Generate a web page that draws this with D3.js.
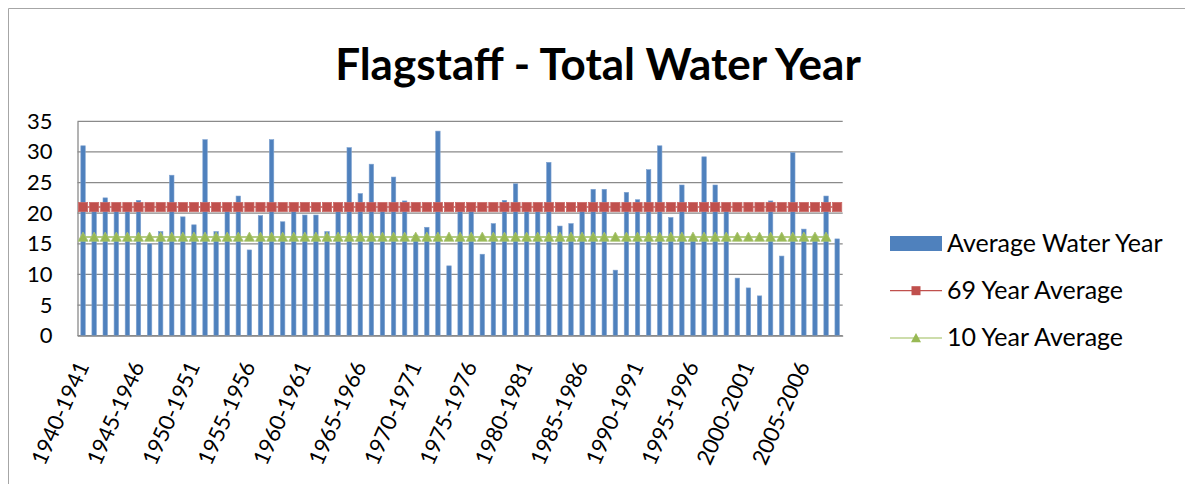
<!DOCTYPE html>
<html>
<head>
<meta charset="utf-8">
<script src="https://cdn.jsdelivr.net/npm/d3@7"></script>
<style>
  body { margin: 0; background: #fff; }
  svg { display: block; }
</style>
</head>
<body>
<svg id="chart" width="1185" height="484"></svg>
<script>
// water years on the category axis
var years = ["1940-1941","1941-1942","1942-1943","1943-1944","1944-1945","1945-1946","1946-1947","1947-1948","1948-1949","1949-1950",
  "1950-1951","1951-1952","1952-1953","1953-1954","1954-1955","1955-1956","1956-1957","1957-1958","1958-1959","1959-1960",
  "1960-1961","1961-1962","1962-1963","1963-1964","1964-1965","1965-1966","1966-1967","1967-1968","1968-1969","1969-1970",
  "1970-1971","1971-1972","1972-1973","1973-1974","1974-1975","1975-1976","1976-1977","1977-1978","1978-1979","1979-1980",
  "1980-1981","1981-1982","1982-1983","1983-1984","1984-1985","1985-1986","1986-1987","1987-1988","1988-1989","1989-1990",
  "1990-1991","1991-1992","1992-1993","1993-1994","1994-1995","1995-1996","1996-1997","1997-1998","1998-1999","1999-2000",
  "2000-2001","2001-2002","2002-2003","2003-2004","2004-2005","2005-2006","2006-2007","2007-2008","2008-2009"];

// only every 5th year gets a label
var tickLabels = ["1940-1941","1945-1946","1950-1951","1955-1956","1960-1961","1965-1966","1970-1971",
  "1975-1976","1980-1981","1985-1986","1990-1991","1995-1996","2000-2001","2005-2006"];

var waterYear = [31.0,20.8,22.5,20.7,20.9,22.1,15.0,17.0,26.2,19.4,
  18.1,32.0,17.0,20.6,22.8,14.0,19.6,32.0,18.6,20.4,
  19.7,19.7,17.0,20.5,30.7,23.2,28.0,20.7,25.9,22.0,
  16.4,17.7,33.4,11.4,20.5,20.6,13.3,18.3,22.1,24.8,
  20.8,20.6,28.3,17.9,18.3,20.5,23.9,23.9,10.7,23.4,
  22.2,27.1,31.0,19.3,24.6,16.2,29.2,24.6,20.5,9.4,
  7.8,6.5,22.0,13.0,29.9,17.4,16.3,22.8,15.8];

var avg69 = [21.0,21.0,21.0,21.0,21.0,21.0,21.0,21.0,21.0,21.0,
  21.0,21.0,21.0,21.0,21.0,21.0,21.0,21.0,21.0,21.0,
  21.0,21.0,21.0,21.0,21.0,21.0,21.0,21.0,21.0,21.0,
  21.0,21.0,21.0,21.0,21.0,21.0,21.0,21.0,21.0,21.0,
  21.0,21.0,21.0,21.0,21.0,21.0,21.0,21.0,21.0,21.0,
  21.0,21.0,21.0,21.0,21.0,21.0,21.0,21.0,21.0,21.0,
  21.0,21.0,21.0,21.0,21.0,21.0,21.0,21.0,21.0];

// the 10 year average stops one year short
var avg10 = [16.1,16.1,16.1,16.1,16.1,16.1,16.1,16.1,16.1,16.1,
  16.1,16.1,16.1,16.1,16.1,16.1,16.1,16.1,16.1,16.1,
  16.1,16.1,16.1,16.1,16.1,16.1,16.1,16.1,16.1,16.1,
  16.1,16.1,16.1,16.1,16.1,16.1,16.1,16.1,16.1,16.1,
  16.1,16.1,16.1,16.1,16.1,16.1,16.1,16.1,16.1,16.1,
  16.1,16.1,16.1,16.1,16.1,16.1,16.1,16.1,16.1,16.1,
  16.1,16.1,16.1,16.1,16.1,16.1,16.1,16.1];

var yTicks = [0, 5, 10, 15, 20, 25, 30, 35];

var svg = d3.select("#chart");
var plotLeft = 77.5, plotRight = 842.7, plotTop = 121.3, plotBottom = 335.7;
var font = "Lato, 'Open Sans', sans-serif";

// chart frame (left and top edges; the rest is cropped off)
svg.append("path")
	.attr("d", "M8.5,484V8.5H1185")
	.attr("fill", "none")
	.attr("stroke", "#a6a6a6");

svg.append("text")
	.attr("x", 598).attr("y", 80)
	.attr("text-anchor", "middle")
	.style("font-family", font)
	.style("font-weight", "bold")
	.style("font-size", "44px")
	.text("Flagstaff - Total Water Year");

var x = d3.scaleBand().domain(years).range([plotLeft, plotRight]).paddingInner(0.6).paddingOuter(0.3);
var xc = d3.scalePoint().domain(years).range([plotLeft, plotRight]).padding(0.5);
var y = d3.scaleLinear().domain([0, 35]).range([plotBottom, plotTop]);

// gridlines
svg.append("g").selectAll("line")
	.data(yTicks)
	.enter().append("line")
	.attr("x1", plotLeft).attr("x2", plotRight)
	.attr("y1", function(d) { return y(d); })
	.attr("y2", function(d) { return y(d); })
	.attr("stroke", "#8a8a8a")
	.attr("stroke-width", 1.3);

// y axis
var yAxis = svg.append("g")
	.attr("transform", "translate(" + plotLeft + ",0)")
	.call(d3.axisLeft(y).tickValues(yTicks).tickSize(0).tickPadding(25));
yAxis.select(".domain").attr("stroke", "#8a8a8a").attr("stroke-width", 1.3);
yAxis.selectAll("text")
	.style("font-family", font)
	.style("font-size", "22px")
	.attr("fill", "#000");

// bars
svg.append("g").selectAll("rect")
	.data(waterYear)
	.enter().append("rect")
	.attr("x", function(d, i) { return x(years[i]); })
	.attr("width", x.bandwidth())
	.attr("y", function(d) { return y(d); })
	.attr("height", function(d) { return plotBottom - y(d); })
	.attr("fill", "#4f81bd")
	.attr("stroke", "#7da1d0")
	.attr("stroke-width", 0.6);

// x axis, labels every 5 years
var xAxis = svg.append("g")
	.attr("transform", "translate(0," + plotBottom + ")")
	.call(d3.axisBottom(xc).tickValues(tickLabels).tickSize(0).tickPadding(0));
xAxis.select(".domain").attr("stroke", "#8a8a8a").attr("stroke-width", 1.3);
xAxis.selectAll("text")
	.style("font-family", font)
	.style("font-size", "22px")
	.attr("fill", "#000")
	.attr("text-anchor", "end")
	.attr("dy", "0.35em")
	.attr("transform", "translate(-1,27) rotate(-66)");

// 69 year average
var line = d3.line()
	.x(function(d, i) { return xc(years[i]); })
	.y(function(d) { return y(d); });

svg.append("path")
	.datum(avg69)
	.attr("d", line)
	.attr("fill", "none")
	.attr("stroke", "#c0504d")
	.attr("stroke-width", 1.5);

svg.append("g").selectAll("rect")
	.data(avg69)
	.enter().append("rect")
	.attr("x", function(d, i) { return xc(years[i]) - 4.6; })
	.attr("y", function(d) { return y(d) - 4.6; })
	.attr("width", 9.2).attr("height", 9.2)
	.attr("fill", "#c0504d")
	.attr("stroke", "#cb6966")
	.attr("stroke-width", 0.8);

// 10 year average
svg.append("path")
	.datum(avg10)
	.attr("d", line)
	.attr("fill", "none")
	.attr("stroke", "#9bbb59")
	.attr("stroke-width", 1.5);

var tri = "M0,-5L5,4.2L-5,4.2Z";
svg.append("g").selectAll("path")
	.data(avg10)
	.enter().append("path")
	.attr("d", tri)
	.attr("transform", function(d, i) { return "translate(" + xc(years[i]) + "," + y(d) + ")"; })
	.attr("fill", "#98b954")
	.attr("stroke", "#a9c472")
	.attr("stroke-width", 0.8);

// legend
var legend = svg.append("g").attr("transform", "translate(890,0)");
legend.append("rect")
	.attr("x", 0).attr("y", 236)
	.attr("width", 52).attr("height", 15)
	.attr("fill", "#4f81bd");
legend.append("line")
	.attr("x1", 0).attr("x2", 52).attr("y1", 290.7).attr("y2", 290.7)
	.attr("stroke", "#c0504d").attr("stroke-width", 1.2);
legend.append("rect")
	.attr("x", 21.5).attr("y", 286.2).attr("width", 9).attr("height", 9)
	.attr("fill", "#c0504d");
legend.append("line")
	.attr("x1", 0).attr("x2", 52).attr("y1", 338).attr("y2", 338)
	.attr("stroke", "#9bbb59").attr("stroke-width", 1.2);
legend.append("path")
	.attr("d", tri)
	.attr("transform", "translate(26,338)")
	.attr("fill", "#98b954");

var legendNames = ["Average Water Year", "69 Year Average", "10 Year Average"];
legend.selectAll("text.lab")
	.data(legendNames)
	.enter().append("text")
	.attr("class", "lab")
	.attr("x", 57)
	.attr("y", function(d, i) { return 243 + i * 47.3; })
	.attr("dy", "0.35em")
	.style("font-family", font)
	.style("font-size", "25px")
	.text(function(d) { return d; });
</script>
</body>
</html>
